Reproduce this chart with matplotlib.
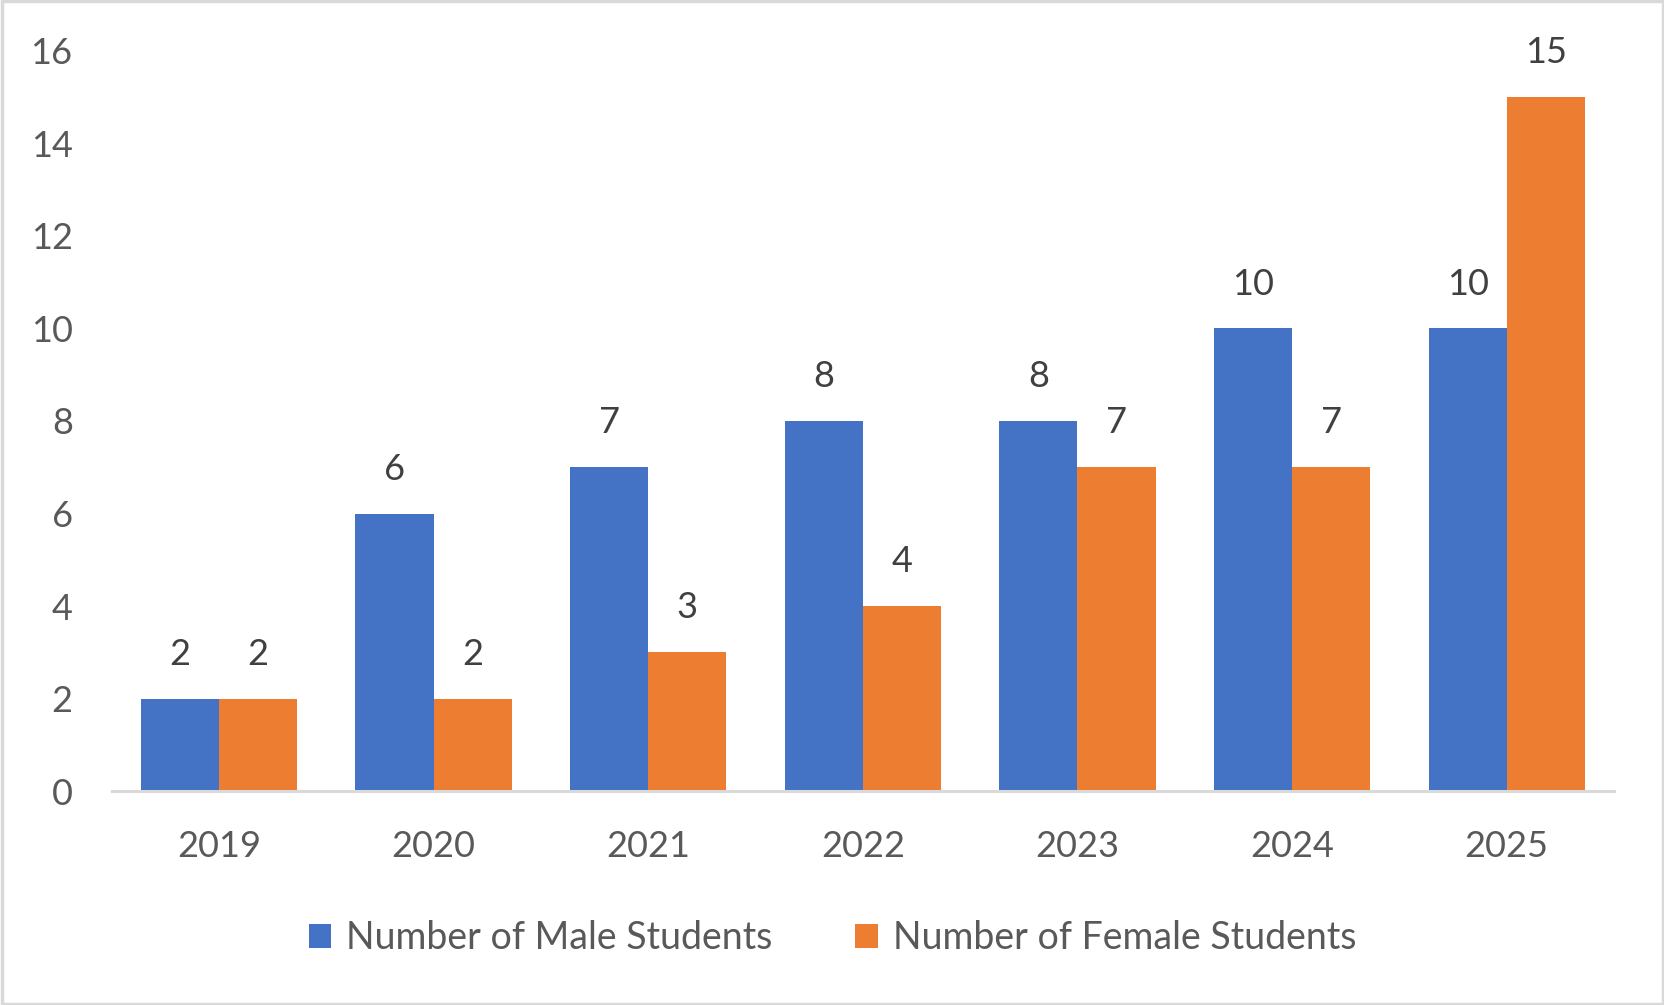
import matplotlib
matplotlib.use('Agg')
import matplotlib.pyplot as plt
import numpy as np

years = ['2019', '2020', '2021', '2022', '2023', '2024', '2025']
male = [2, 6, 7, 8, 8, 10, 10]
female = [2, 2, 3, 4, 7, 7, 15]

blue = '#4472C4'
orange = '#ED7D31'
grey_txt = '#595959'
label_txt = '#404040'

plt.rcParams['font.family'] = ['Lato', 'DejaVu Sans']

fig = plt.figure(figsize=(16.65, 10.05), dpi=100)
ax = fig.add_axes([0.067, 0.2129, 0.9024, 0.7364])

x = np.arange(len(years))
w = 0.364
b1 = ax.bar(x - w / 2, male, w, color=blue, label='Number of Male Students')
b2 = ax.bar(x + w / 2, female, w, color=orange, label='Number of Female Students')

for bars in (b1, b2):
    ax.bar_label(bars, padding=20, fontsize=26, color=label_txt)

ax.set_xlim(-0.5, len(years) - 0.5)
ax.set_ylim(0, 16)
ax.set_yticks(range(0, 17, 2))
ax.set_xticks(x)
ax.set_xticklabels(years)
ax.tick_params(axis='both', length=0, labelsize=26, labelcolor=grey_txt)
ax.tick_params(axis='y', pad=28)
ax.tick_params(axis='x', pad=28)

for s in ('top', 'right', 'left'):
    ax.spines[s].set_visible(False)
ax.spines['bottom'].set_color('#D9D9D9')
ax.spines['bottom'].set_linewidth(2.2)

leg = fig.legend(handles=[b1, b2], loc='center', bbox_to_anchor=(0.5, 0.0667),
                 ncol=2, frameon=False, fontsize=27, handlelength=0.6,
                 handleheight=0.6, handletextpad=0.4, columnspacing=2.2)
for t in leg.get_texts():
    t.set_color(grey_txt)

# outer border
fig.patches.append(plt.Rectangle((0.001, 0.001), 0.998, 0.998, transform=fig.transFigure,
                                 fill=False, edgecolor='#D9D9D9', linewidth=2.5))

fig.savefig('out.png', dpi=100)
